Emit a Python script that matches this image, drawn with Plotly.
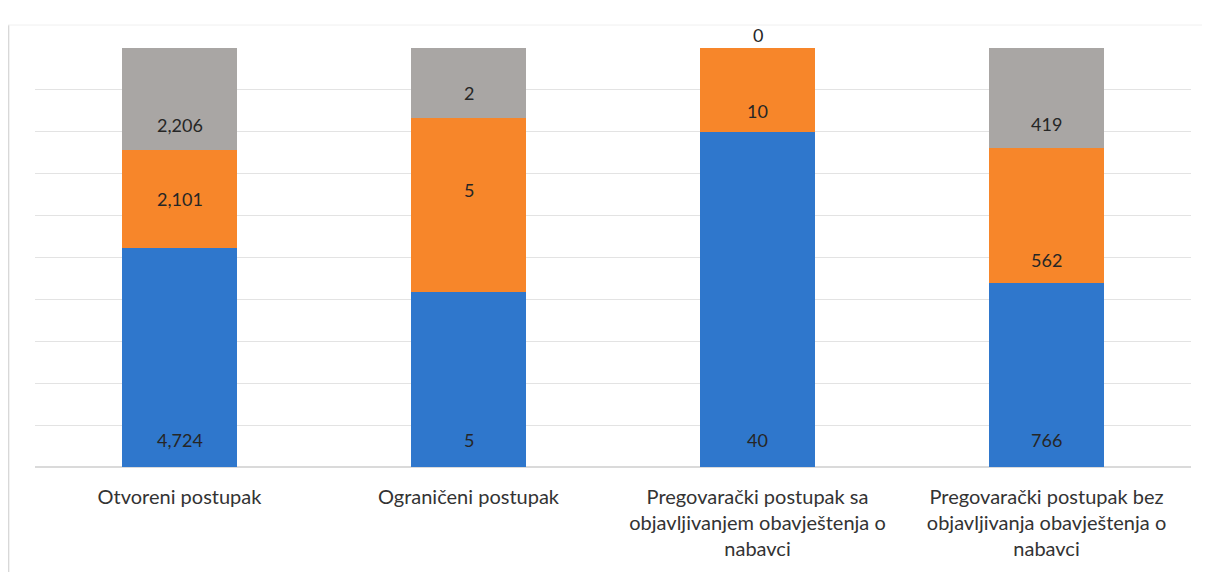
import plotly.graph_objects as go

categories = [
    "Otvoreni postupak",
    "Ograničeni postupak",
    "Pregovarački postupak sa<br>objavljivanjem obavještenja o<br>nabavci",
    "Pregovarački postupak bez<br>objavljivanja obavještenja o<br>nabavci",
]
series_blue = [4724, 5, 40, 766]
series_orange = [2101, 5, 10, 562]
series_gray = [2206, 2, 0, 419]

blue = "#2F77CC"
orange = "#F7862A"
gray = "#A9A6A4"
font = "Lato"
lab = dict(color="#262626", size=18, family=font)

# label placement offsets (pixels, + = up) mimicking the original label positions
orange_shift = [0, 15, -21, -44]
gray_shift = [-26, -10, 0, -26]

def fmt(v):
    return f"{v:,}"

W, H = 1194, 564
L, R, T, B = 27, 11, 40, 105
PW, PH = W - L - R, H - T - B

fig = go.Figure()
for vals, col, nm in [(series_blue, blue, "1"), (series_orange, orange, "2"), (series_gray, gray, "3")]:
    fig.add_trace(go.Bar(x=categories, y=vals, marker=dict(color=col, line=dict(width=0)),
                         hoverinfo="skip", name=nm))

for i, c in enumerate(categories):
    tot = series_blue[i] + series_orange[i] + series_gray[i]
    pb = series_blue[i] / tot * 100
    po = series_orange[i] / tot * 100
    pg = series_gray[i] / tot * 100
    fig.add_annotation(x=c, y=0, text=fmt(series_blue[i]), showarrow=False,
                       yanchor="middle", yshift=27, font=lab)
    fig.add_annotation(x=c, y=pb + po / 2, text=fmt(series_orange[i]), showarrow=False,
                       yanchor="middle", yshift=orange_shift[i], font=lab)
    if series_gray[i] > 0:
        fig.add_annotation(x=c, y=pb + po + pg / 2, text=fmt(series_gray[i]), showarrow=False,
                           yanchor="middle", yshift=gray_shift[i], font=lab)
    else:
        fig.add_annotation(x=c, y=100, text=fmt(series_gray[i]), showarrow=False,
                           yanchor="bottom", yshift=0, font=lab)

fig.update_layout(
    barmode="stack", barnorm="percent", bargap=0.6,
    width=W, height=H,
    margin=dict(l=L, r=R, t=T, b=B),
    paper_bgcolor="white", plot_bgcolor="white",
    showlegend=False,
    font=dict(family=font, color="#404040"),
)
fig.update_xaxes(tickfont=dict(size=20, family=font, color="#333333"), showline=False,
                 ticks="", showgrid=False, ticklabelstandoff=16)
fig.update_yaxes(range=[0, 100], dtick=10, showticklabels=False, showgrid=True,
                 gridcolor="#E3E3E3", gridwidth=1, zeroline=True, zerolinecolor="#DADADA",
                 showline=False)

# faint page border from the scanned page
fig.add_shape(type="line", xref="paper", yref="paper",
              x0=-L / PW + 0.0005, x1=-L / PW + 0.0005, y0=-B / PH, y1=(PH + T - 17) / PH,
              line=dict(color="#D8D8D8", width=1.5))
fig.add_shape(type="line", xref="paper", yref="paper",
              x0=-L / PW, x1=1 + R / PW, y0=(PH + T - 17) / PH, y1=(PH + T - 17) / PH,
              line=dict(color="#F0F0F0", width=1))

fig.write_html("out.html")
